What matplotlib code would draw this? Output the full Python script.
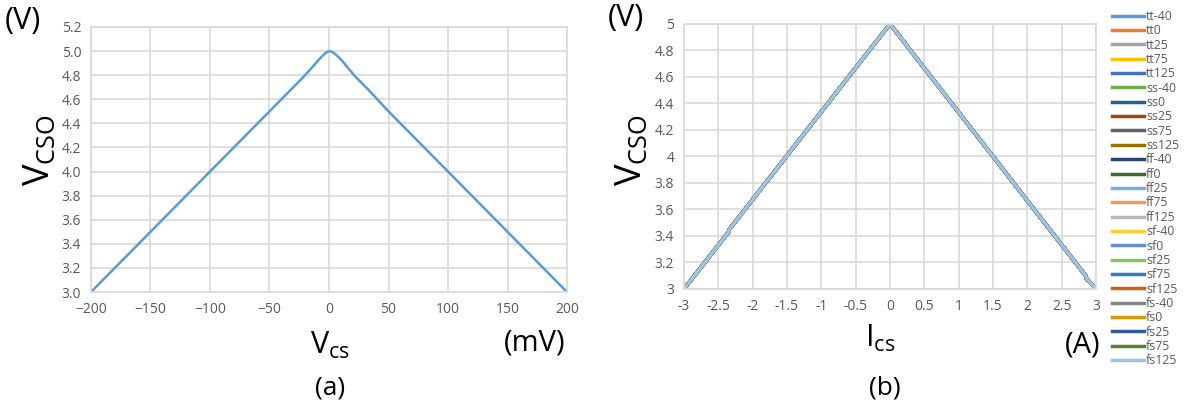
import numpy as np
import matplotlib.pyplot as plt

plt.rcParams['font.family'] = ['Open Sans', 'DejaVu Sans']

# (a) Vcso vs Vcs
vcs = [-200, -150, -100, -50, -30, -22, -16, -11, -7, -4, -2, 0, 2, 4, 7, 11, 16, 22, 33, 50, 100, 150, 200]
vcso_a = [3.0, 3.5, 4.0, 4.5, 4.70, 4.78, 4.845, 4.90, 4.945, 4.975, 4.99, 5.0, 4.995, 4.985, 4.96, 4.92, 4.86, 4.79, 4.68, 4.5, 4.0, 3.5, 3.0]

# (b) Vcso vs Ics, 25 process/temperature corners (curves overlap)
corners = ['tt-40', 'tt0', 'tt25', 'tt75', 'tt125',
           'ss-40', 'ss0', 'ss25', 'ss75', 'ss125',
           'ff-40', 'ff0', 'ff25', 'ff75', 'ff125',
           'sf-40', 'sf0', 'sf25', 'sf75', 'sf125',
           'fs-40', 'fs0', 'fs25', 'fs75', 'fs125']
colors = ['#5B9BD5', '#ED7D31', '#A5A5A5', '#FFC000', '#4472C4',
          '#70AD47', '#255E91', '#9E480E', '#636363', '#997300',
          '#264478', '#43682B', '#7CAFDD', '#F1975A', '#B7B7B7',
          '#FFCD33', '#698ED0', '#8CC168', '#327DC2', '#D26012',
          '#848484', '#D49B00', '#335AA1', '#548235', '#9DC3E6']
ics = [-3.0, -2.35, -2.34, 0.0, 2.85, 2.86, 3.0]
vcso_b = [3.0, 3.43, 3.45, 5.0, 3.1, 3.08, 3.0]

grid_c = '#D9D9D9'
tick_c = '#595959'

fig = plt.figure(figsize=(11.86, 4.09), dpi=100)

ax1 = fig.add_axes([0.0767, 0.286, 0.4014, 0.648])
ax1.plot(vcs, vcso_a, color='#5B9BD5', lw=1.8)
ax1.set_xlim(-200, 200)
ax1.set_ylim(3.0, 5.2)
ax1.set_xticks(np.arange(-200, 201, 50))
ax1.set_yticks(np.arange(3.0, 5.21, 0.2))
ax1.set_yticklabels(['%.1f' % v for v in np.arange(3.0, 5.21, 0.2)])

ax2 = fig.add_axes([0.5767, 0.2934, 0.3474, 0.648])
for name, c in zip(corners, colors):
    ax2.plot(ics, vcso_b, color=c, lw=2.5, label=name)
ax2.set_xlim(-3, 3)
ax2.set_ylim(3, 5)
ax2.set_xticks(np.arange(-3, 3.01, 0.5))
ax2.set_xticklabels(['%g' % v for v in np.arange(-3, 3.01, 0.5)])
ax2.set_yticks(np.arange(3, 5.01, 0.2))
ax2.set_yticklabels(['%g' % round(v, 1) for v in np.arange(3, 5.01, 0.2)])

for ax in (ax1, ax2):
    ax.grid(True, color=grid_c, lw=1.2)
    ax.set_axisbelow(True)
    for s in ax.spines.values():
        s.set_color(grid_c)
        s.set_linewidth(1.2)
    ax.tick_params(length=0, labelsize=10, colors=tick_c, pad=7)

# labels
fig.text(5 / 1186, 1 - 21 / 409, '(V)', fontsize=22, va='center', ha='left')
fig.text(40 / 1186, 1 - 150 / 409, r'V$_{\mathregular{CSO}}$', fontsize=26, rotation=90, va='center', ha='center')
fig.text(330 / 1186, 1 - 345 / 409, r'V$_{\mathregular{cs}}$', fontsize=22, va='center', ha='center')
fig.text(535 / 1186, 1 - 343 / 409, '(mV)', fontsize=21, va='center', ha='center')
fig.text(330 / 1186, 1 - 388 / 409, '(a)', fontsize=19, va='center', ha='center')

fig.text(608 / 1186, 1 - 18 / 409, '(V)', fontsize=22, va='center', ha='left')
fig.text(632 / 1186, 1 - 150 / 409, r'V$_{\mathregular{CSO}}$', fontsize=26, rotation=90, va='center', ha='center')
fig.text(880 / 1186, 1 - 338 / 409, r'I$_{\mathregular{cs}}$', fontsize=22, va='center', ha='center')
fig.text(1083 / 1186, 1 - 345 / 409, '(A)', fontsize=21, va='center', ha='center')
fig.text(885 / 1186, 1 - 388 / 409, '(b)', fontsize=19, va='center', ha='center')

leg = fig.legend(loc='upper left', bbox_to_anchor=(1112 / 1186, 1 - 10 / 409),
                 frameon=False, fontsize=8.8, handlelength=2.6, handletextpad=0.2,
                 labelspacing=0.11, borderpad=0, borderaxespad=0)
for t in leg.get_texts():
    t.set_color(tick_c)

fig.savefig('out.png', dpi=100)
